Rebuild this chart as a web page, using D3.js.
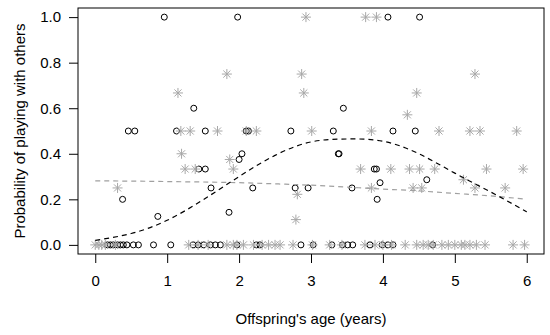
<!DOCTYPE html>
<html>
<head>
<meta charset="utf-8">
<script src="https://cdn.jsdelivr.net/npm/d3@7"></script>
<style>
  body { margin: 0; background: #fff; }
  text { font-family: "Liberation Sans", Arial, sans-serif; }
</style>
</head>
<body>
<div id="chart"></div>
<script>
// open circles (black) - age in years, probability
const circleAge = [0.96, 1.98, 4.07, 4.51,
  1.37, 3.45,
  0.46, 0.55, 1.13, 1.53, 2.10, 2.13, 2.72, 3.31, 4.14, 4.45,
  2.04, 3.38, 3.39, 2.00,
  1.44, 1.53, 3.88, 3.91,
  1.61, 2.19, 2.78, 2.96, 3.57, 3.96, 4.61,
  0.38, 3.92, 1.86, 0.87,
  0.17, 0.21, 0.25, 0.31, 0.35, 0.39, 0.44, 0.53, 0.60, 0.81, 1.05,
  1.36, 1.43, 1.51, 1.60, 1.67, 1.74, 1.97, 2.24, 2.29, 2.86, 3.03,
  3.29, 3.44, 3.51, 3.58, 3.82, 3.99, 4.07, 4.14, 4.69];
const circleProb = [1, 1, 1, 1,
  0.6, 0.6,
  0.5, 0.5, 0.5, 0.5, 0.5, 0.5, 0.5, 0.5, 0.5, 0.5,
  0.4, 0.4, 0.4, 0.375,
  0.333, 0.333, 0.333, 0.333,
  0.25, 0.25, 0.25, 0.25, 0.25, 0.273, 0.286,
  0.2, 0.2, 0.143, 0.125,
  0, 0, 0, 0, 0, 0, 0, 0, 0, 0, 0,
  0, 0, 0, 0, 0, 0, 0, 0, 0, 0, 0,
  0, 0, 0, 0, 0, 0, 0, 0, 0];

// asterisks (grey)
const starAge = [2.93, 3.76, 3.91,
  1.83, 2.87, 5.28,
  1.15, 2.90, 4.47, 4.34,
  1.19, 1.32, 1.70, 2.10, 2.24, 3.01, 3.84, 4.78, 5.21, 5.35, 5.86,
  1.20, 1.87,
  1.25, 1.39, 1.92, 3.69, 4.11, 4.37, 4.51, 4.72, 5.44, 5.95,
  0.31, 3.84, 4.42, 4.54, 5.28, 5.70, 2.81, 5.12, 2.79,
  0.00, 0.05, 0.09, 0.14, 0.28, 1.30, 1.43, 1.57, 1.83, 1.92, 1.97,
  2.06, 2.20, 2.32, 2.41, 2.50, 2.57, 2.75, 3.02, 3.26, 3.43, 3.75,
  3.89, 4.00, 4.12, 4.31, 4.47, 4.56, 4.63, 4.70, 4.82, 4.91, 5.00,
  5.09, 5.14, 5.21, 5.30, 5.42, 5.81, 5.97];
const starProb = [1, 1, 1,
  0.75, 0.75, 0.75,
  0.667, 0.667, 0.667, 0.571,
  0.5, 0.5, 0.5, 0.5, 0.5, 0.5, 0.5, 0.5, 0.5, 0.5, 0.5,
  0.4, 0.375,
  0.333, 0.333, 0.333, 0.333, 0.333, 0.333, 0.333, 0.333, 0.333, 0.333,
  0.25, 0.25, 0.25, 0.25, 0.25, 0.25, 0.222, 0.286, 0.111,
  0, 0, 0, 0, 0, 0, 0, 0, 0, 0, 0,
  0, 0, 0, 0, 0, 0, 0, 0, 0, 0, 0,
  0, 0, 0, 0, 0, 0, 0, 0, 0, 0, 0,
  0, 0, 0, 0, 0, 0, 0];

// fitted curves
const fitAge = [0, 0.5, 1, 1.5, 2, 2.5, 3, 3.5, 4, 4.5, 5, 5.5, 6];
const circleFit = [0.02, 0.05, 0.108, 0.198, 0.30, 0.393, 0.452, 0.465, 0.455, 0.40, 0.315, 0.232, 0.145];
const starFit = [0.281, 0.280, 0.278, 0.276, 0.273, 0.268, 0.262, 0.254, 0.245, 0.237, 0.226, 0.215, 0.20];

const xTicks = [0, 1, 2, 3, 4, 5, 6];
const yTicks = [0, 0.2, 0.4, 0.6, 0.8, 1.0];

const width = 550, height = 335,
  margin = ({top: 8, right: 6, bottom: 81, left: 78});

let svg = d3.select("#chart").append("svg")
  .attr("width", width).attr("height", height);

let x = d3.scaleLinear()
  .domain([-0.24, 6.24])
  .range([margin.left, width - margin.right]);

let y = d3.scaleLinear()
  .domain([-0.04, 1.04])
  .range([height - margin.bottom, margin.top]);

// axes, R style ticks
svg.append("g")
  .attr("transform", `translate(0,${height - margin.bottom})`)
  .call(d3.axisBottom(x).tickValues(xTicks).tickFormat(d3.format("d")).tickSize(9).tickPadding(12))
  .call(g => g.select(".domain").remove())
  .call(g => g.selectAll("text").attr("font-size", 15).attr("fill", "#000").attr("font-family", null));

svg.append("g")
  .attr("transform", `translate(${margin.left},0)`)
  .call(d3.axisLeft(y).tickValues(yTicks).tickFormat(d3.format(".1f")).tickSize(9).tickPadding(8))
  .call(g => g.select(".domain").remove())
  .call(g => g.selectAll("text").attr("font-size", 15).attr("fill", "#000").attr("font-family", null));

// box
svg.append("rect")
  .attr("x", margin.left).attr("y", margin.top)
  .attr("width", width - margin.right - margin.left)
  .attr("height", height - margin.bottom - margin.top)
  .attr("fill", "none").attr("stroke", "#000");

// points
let circles = circleAge.map((a, i) => ({age: a, p: circleProb[i]}));
let stars = starAge.map((a, i) => ({age: a, p: starProb[i]}));

svg.append("g").selectAll("circle")
  .data(circles)
  .join("circle")
  .attr("cx", d => x(d.age))
  .attr("cy", d => y(d.p))
  .attr("r", 3)
  .attr("fill", "none")
  .attr("stroke", "#000")
  .attr("stroke-width", 1);

const s = 5, t = s * Math.SQRT1_2;
const starPath = `M${-s},0H${s}M0,${-s}V${s}M${-t},${-t}L${t},${t}M${-t},${t}L${t},${-t}`;

svg.append("g").selectAll("path")
  .data(stars)
  .join("path")
  .attr("transform", d => `translate(${x(d.age)},${y(d.p)})`)
  .attr("d", starPath)
  .attr("stroke", "#a8a8a8")
  .attr("stroke-width", 1)
  .attr("fill", "none");

// fitted lines
let line = d3.line()
  .x(d => x(d[0]))
  .y(d => y(d[1]))
  .curve(d3.curveNatural);

svg.append("path")
  .datum(fitAge.map((a, i) => [a, starFit[i]]))
  .attr("d", line)
  .attr("fill", "none")
  .attr("stroke", "#a0a0a0")
  .attr("stroke-width", 1.2)
  .attr("stroke-dasharray", "5,4");

svg.append("path")
  .datum(fitAge.map((a, i) => [a, circleFit[i]]))
  .attr("d", line)
  .attr("fill", "none")
  .attr("stroke", "#000")
  .attr("stroke-width", 1.2)
  .attr("stroke-dasharray", "5,4");

// axis titles
svg.append("text")
  .attr("x", (margin.left + width - margin.right) / 2)
  .attr("y", 324)
  .attr("text-anchor", "middle")
  .attr("font-size", 15)
  .text("Offspring's age (years)");

svg.append("text")
  .attr("transform", `translate(25,${(margin.top + height - margin.bottom) / 2}) rotate(-90)`)
  .attr("text-anchor", "middle")
  .attr("font-size", 15)
  .text("Probability of playing with others");
</script>
</body>
</html>
